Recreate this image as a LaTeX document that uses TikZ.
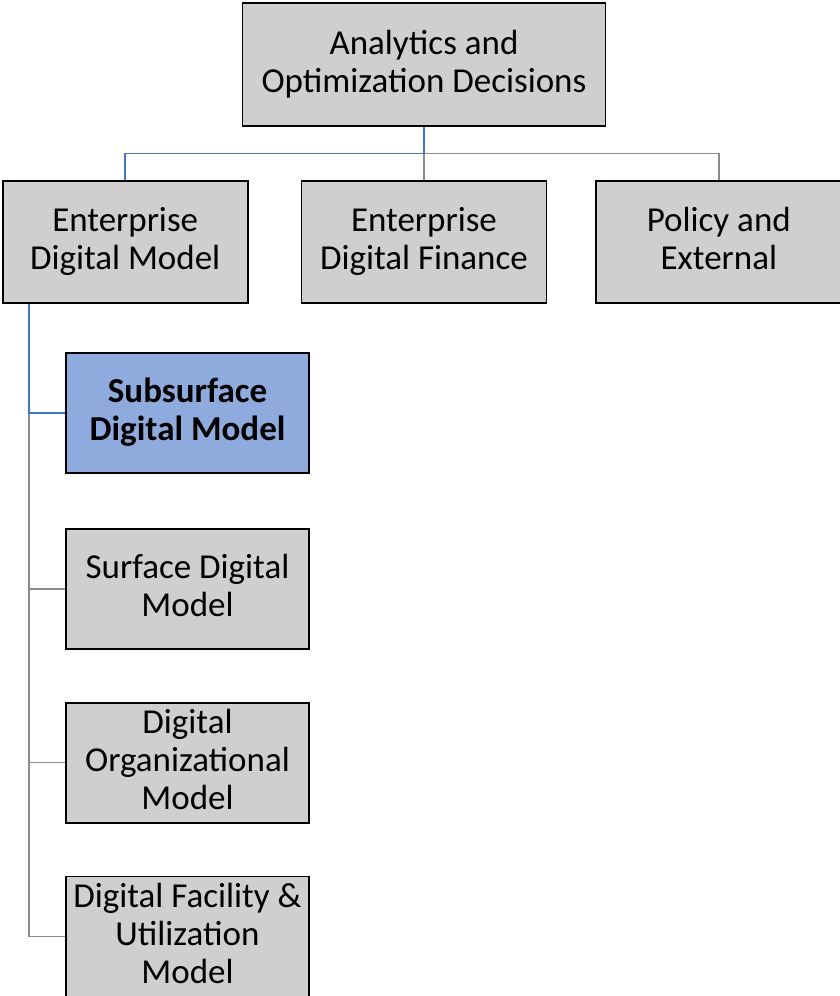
\documentclass[tikz,border=0pt]{standalone}
\usepackage{fontspec}
\setmainfont{Carlito}
\usepackage{tikz}
\usetikzlibrary{positioning,calc}

\definecolor{boxgray}{HTML}{D0CECE}
\definecolor{boxblue}{HTML}{8FAADC}
\definecolor{linkblue}{HTML}{4472C4}
\definecolor{linkgray}{HTML}{8C8C8C}

\newcommand{\linestrut}{\rule[-7pt]{0pt}{34pt}}

\tikzset{
  unit/.style={draw=black, line width=1.8pt, fill=boxgray, align=center,
    font=\fontsize{35}{38}\selectfont, inner sep=2pt,
    execute at begin node=\linestrut, execute at end node=\linestrut},
  wide/.style={unit, minimum width=363pt, minimum height=123pt},
  mid/.style={unit, minimum width=245pt, minimum height=122pt},
  leaf/.style={unit, minimum width=243pt, minimum height=120pt},
  picked/.style={fill=boxblue, font=\fontsize{35}{38}\selectfont\bfseries},
  bluelink/.style={draw=linkblue, line width=1.5pt},
  graylink/.style={draw=linkgray, line width=1.5pt}
}

\begin{document}
\begin{tikzpicture}[x=1pt, y=1pt]
  \useasboundingbox (0,0) rectangle (840,-996);

  \node [wide] (top) at (424,-64.5) {Analytics and\\Optimization Decisions};
  \node [mid] (edf) [below=53pt of top] {Enterprise\\Digital Finance};
  \node [mid] (edm) [left=52pt of edf] {Enterprise\\Digital Model};
  \node [mid] (pol) [right=48pt of edf] {Policy and\\External};

  \node [leaf,picked] (sub) at (187.5,-413) {Subsurface\\Digital Model};
  \node [leaf] (surf) [below=54pt of sub] {Surface Digital\\Model};
  \node [leaf] (org) [below=52pt of surf] {Digital\\Organizational\\Model};
  \node [leaf] (fac) [below=52pt of org] {Digital Facility \&\\Utilization\\Model};

  \coordinate (bus) at ($(top.south)!.5!(edf.north)$);
  \coordinate (spine) at ([xshift=27pt]edm.south west);

  % gray links first, the blue path goes on top
  \path [graylink]
    (bus) -- (edf.north)
    (bus) -| (pol.north)
    (sub.west -| spine) |- (fac.west)
    (surf.west -| spine) -- (surf.west)
    (org.west -| spine) -- (org.west);
  \path [bluelink]
    (top.south) -- (bus) -| (edm.north)
    (spine) |- (sub.west);
\end{tikzpicture}
\end{document}
